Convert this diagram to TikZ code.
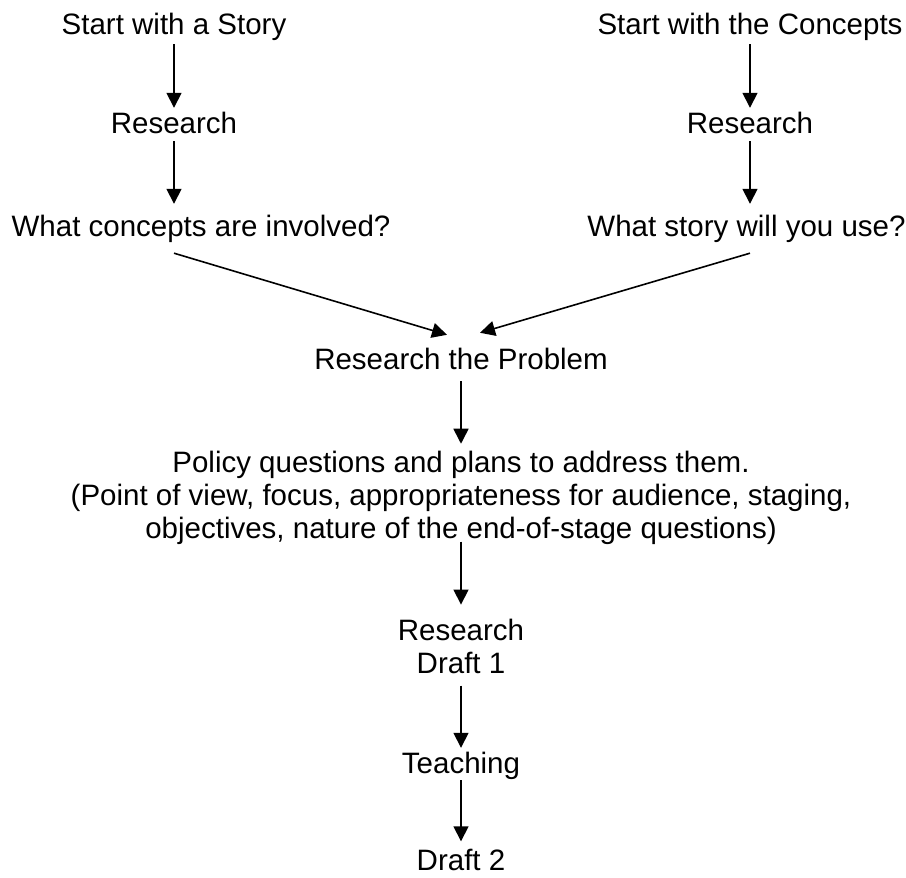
\documentclass[tikz,border=0pt]{standalone}
\usepackage{fontspec}
\setmainfont{Liberation Sans}
\usetikzlibrary{arrows.meta,calc}
\tikzset{flowtext/.style={font=\fontsize{29.5}{33}\selectfont,inner sep=0pt,text height=21pt,text depth=6pt}}
\tikzset{flowblock/.style={font=\fontsize{29.5}{33}\selectfont,inner sep=0pt,align=center}}
\tikzset{flowarrow/.style={-{Triangle[length=15pt,width=15pt]},line width=1.6pt,black}}

\begin{document}
\begin{tikzpicture}[x=1pt,y=1pt]
	\useasboundingbox (0,0) rectangle (906,878);
	\node[flowtext] (story) at (174,851) {Start with a Story};
	\node[flowtext] (research1) at (174,752) {Research};
	\node[flowtext] (concepts) at (201,649) {What concepts are involved?};
	\node[flowtext] (conceptsstart) at (750,851) {Start with the Concepts};
	\node[flowtext] (research2) at (750,752) {Research};
	\node[flowtext] (storyq) at (746.5,649) {What story will you use?};
	\node[flowtext] (problem) at (461,515.5) {Research the Problem};
	\node[flowblock] (policy) at (461,380.3) {Policy questions and plans to address them.\\(Point of view, focus, appropriateness for audience, staging,\\objectives, nature of the end-of-stage questions)};
	\node[flowblock] (draft1) at (461,231.9) {Research\\Draft 1};
	\node[flowtext] (teaching) at (461,111.5) {Teaching};
	\node[flowtext,text depth=0pt] (draft2) at (461,18) {Draft 2};
	\draw[flowarrow,shorten <=3.5pt,shorten >=4.5pt] (story) -- (research1);
	\draw[flowarrow,shorten <=1.5pt,shorten >=11.5pt] (research1) -- (research1 |- concepts.north);
	\draw[flowarrow,shorten <=3.5pt,shorten >=4.5pt] (conceptsstart) -- (research2);
	\draw[flowarrow,shorten <=1.5pt,shorten >=11.5pt] (research2) -- (research2 |- storyq.north);
	\draw[flowarrow] ($(concepts.south -| research1)+(0,-10.5)$) -- ([xshift=-14pt,yshift=14pt]problem.north);
	\draw[flowarrow] ($(storyq.south -| research2)+(0,-10.5)$) -- ([xshift=19pt,yshift=16pt]problem.north);
	\draw[flowarrow,shorten <=5pt,shorten >=7pt] (problem) -- (policy);
	\draw[flowarrow,shorten <=-3pt,shorten >=14pt] (policy) -- (draft1);
	\draw[flowarrow,shorten <=12pt,shorten >=5pt] (draft1) -- (teaching);
	\draw[flowarrow,shorten >=8pt] (teaching) -- (draft2);
\end{tikzpicture}
\end{document}
